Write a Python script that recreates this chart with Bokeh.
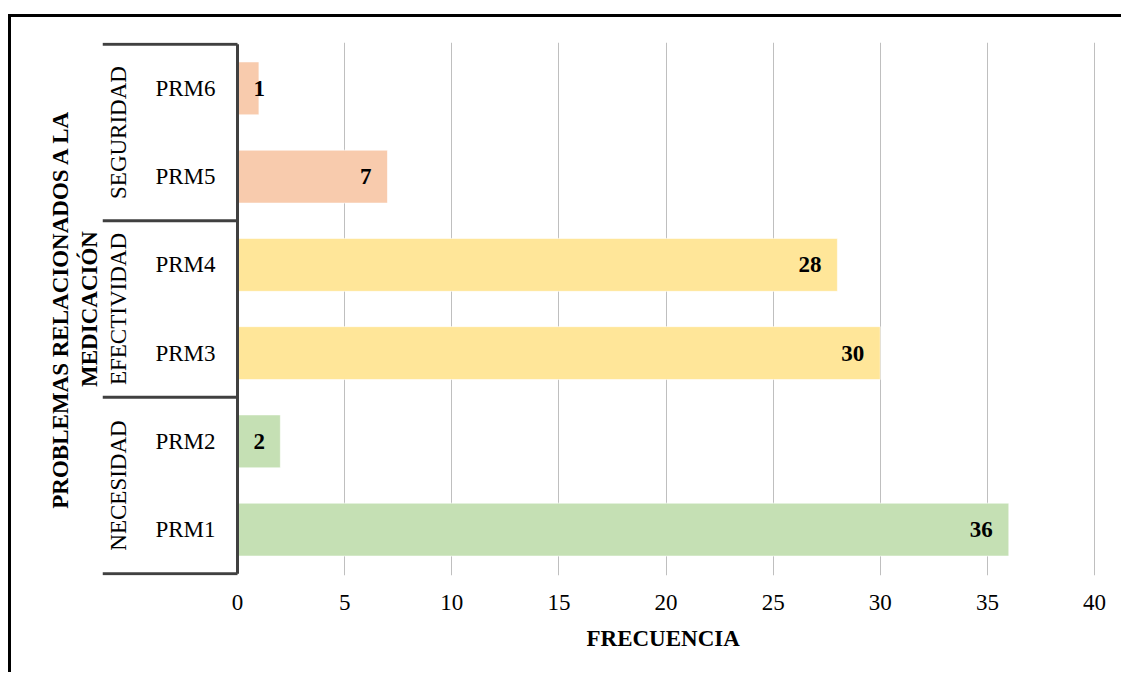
import math
from bokeh.plotting import figure
from bokeh.models import Range1d, FixedTicker, Title, ColumnDataSource
from bokeh.core.properties import value
from bokeh.embed import file_html
from bokeh.resources import INLINE

# ---- data ----
categories = ["PRM1", "PRM2", "PRM3", "PRM4", "PRM5", "PRM6"]
groups = ["NECESIDAD", "NECESIDAD", "EFECTIVIDAD", "EFECTIVIDAD", "SEGURIDAD", "SEGURIDAD"]
frecuencia = [36, 2, 30, 28, 7, 1]
group_names = ["NECESIDAD", "EFECTIVIDAD", "SEGURIDAD"]
group_colors = {"NECESIDAD": "#C5E0B4", "EFECTIVIDAD": "#FFE699", "SEGURIDAD": "#F8CBAD"}
x_ticks = [0, 5, 10, 15, 20, 25, 30, 35, 40]
x_title = "FRECUENCIA"
y_title_1 = "PROBLEMAS RELACIONADOS A LA"
y_title_2 = "MEDICACIÓN"

# ---- layout (pixels) ----
FONT = "Liberation Serif"
FS = "23px"
PX = 21.425            # pixels per unit on x
LABEL_AREA = 135       # pixels between frame left and the value axis (x=0)
FRAME_W = 1008
x_start = -LABEL_AREA / PX
x_end = x_start + FRAME_W / PX

p = figure(width=1113, height=658,
           x_range=Range1d(x_start, x_end), y_range=Range1d(-0.02, len(categories) + 0.02),
           output_backend="svg", toolbar_location=None,
           min_border_left=91, min_border_top=25, min_border_bottom=100, min_border_right=14)
p.margin = (14, 0, 0, 8)
p.styles = {"border-left": "3px solid black", "border-top": "3px solid black"}
p.outline_line_color = None
p.background_fill_color = "white"
p.border_fill_color = "white"

# grid & axis
p.ygrid.visible = False
p.yaxis.visible = False
p.xgrid.ticker = FixedTicker(ticks=[t for t in x_ticks if t > 0])
p.xgrid.grid_line_color = "#BFBFBF"
p.xgrid.grid_line_width = 1
p.xaxis.ticker = FixedTicker(ticks=x_ticks)
p.xaxis.axis_line_color = None
p.xaxis.major_tick_line_color = None
p.xaxis.minor_tick_line_color = None
p.xaxis.major_label_text_font = FONT
p.xaxis.major_label_text_font_size = FS
p.xaxis.major_label_text_color = "black"
p.xaxis.major_label_standoff = 13

# bars
ys = [i + 0.5 for i in range(len(categories))]
src = ColumnDataSource(dict(
    y=ys, right=frecuencia, cat=categories, grp=groups,
    color=[group_colors[g] for g in groups],
    lab=[str(v) for v in frecuencia],
    lab_x=[v if v * PX >= 45 else 0 for v in frecuencia],
    lab_align=["right" if v * PX >= 45 else "left" for v in frecuencia],
    lab_off=[-16 if v * PX >= 45 else 16 for v in frecuencia],
    zero=[0] * len(categories),
))
p.hbar(y="y", left=0, right="right", height=0.6, fill_color="color",
       line_color="white", line_alpha=0.6, line_width=1, source=src)

# data labels
p.text(x="lab_x", y="y", text="lab", x_offset="lab_off", text_align="lab_align",
       text_baseline="middle", text_font=value(FONT), text_font_size=FS,
       text_font_style="bold", text_color="black", source=src)

# category labels
p.text(x="zero", y="y", text="cat", x_offset=-22, text_align="right",
       text_baseline="middle", text_font=value(FONT), text_font_size=FS,
       text_color="black", source=src)

# group labels and separators
bounds = [0]
gy = []
for g in group_names:
    n = groups.count(g)
    gy.append(bounds[-1] + n / 2)
    bounds.append(bounds[-1] + n)
p.text(x=[0] * len(group_names), y=gy, text=group_names, x_offset=-119, angle=math.pi / 2,
       text_align="center", text_baseline="middle", text_font=value(FONT),
       text_font_size=FS, text_color="black")
p.segment(x0=[x_start] * len(bounds), x1=[0] * len(bounds), y0=bounds, y1=bounds,
          line_color="#404040", line_width=3)
p.segment(x0=[0], x1=[0], y0=[bounds[0]], y1=[bounds[-1]], line_color="#404040", line_width=3)

# axis titles
p.add_layout(Title(text=y_title_2, align="center", text_font=FONT, text_font_size=FS,
                   text_font_style="bold", text_color="black", standoff=2), "left")
p.add_layout(Title(text=y_title_1, align="center", text_font=FONT, text_font_size=FS,
                   text_font_style="bold", text_color="black", standoff=1), "left")
p.add_layout(Title(text=x_title, align="left", offset=484, text_font=FONT, text_font_size=FS,
                   text_font_style="bold", text_color="black", standoff=22), "below")

open("out.html", "w").write(file_html(p, INLINE))
